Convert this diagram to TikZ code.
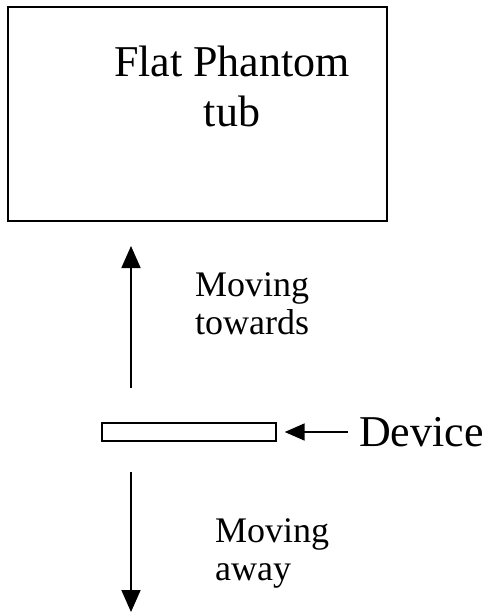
\documentclass[tikz,border=0pt]{standalone}
\usepackage{fontspec}
\setmainfont{Liberation Serif}
\usetikzlibrary{arrows.meta}

\begin{document}
\begin{tikzpicture}[x=1pt, y=-1pt,
    bigarrow/.style={line width=1.8pt, -{Triangle[width=19pt, length=22pt]}},
    label/.style={inner sep=0pt, align=left, anchor=north west, font=\fontsize{36}{38}\selectfont}]

    \useasboundingbox (0, 0) rectangle (492, 616);

    \draw [line width=1.8pt] (8, 7) rectangle (387, 221);
    \node (tub) at (232, 46) [inner sep=0pt, anchor=north, align=center,
        font=\fontsize{44}{50}\selectfont] {Flat Phantom\\tub};

    \node (dev) at (189, 432) [draw, line width=1.4pt, inner sep=0pt,
        minimum width=174pt, minimum height=18pt] {};
    \node (devlabel) at (359, 432) [inner sep=0pt, anchor=west,
        font=\fontsize{44}{44}\selectfont] {Device};

    \coordinate (upstart) at (131, 388);
    \coordinate (upend) at (131, 246);
    \coordinate (downstart) at (131, 472);
    \coordinate (downend) at (131, 612);

    \draw [bigarrow] (upstart) -- (upend);
    \draw [bigarrow] (downstart) -- (downend);
    \draw [line width=1.8pt, -{Triangle[width=17pt, length=20pt]}]
        (devlabel.west) ++(-11, 0) -- ([xshift=8pt] dev.east);

    \node (towards) at (195, 272) [label] {Moving\\towards};
    \node (away) at (215, 518) [label] {Moving\\away};

\end{tikzpicture}
\end{document}
